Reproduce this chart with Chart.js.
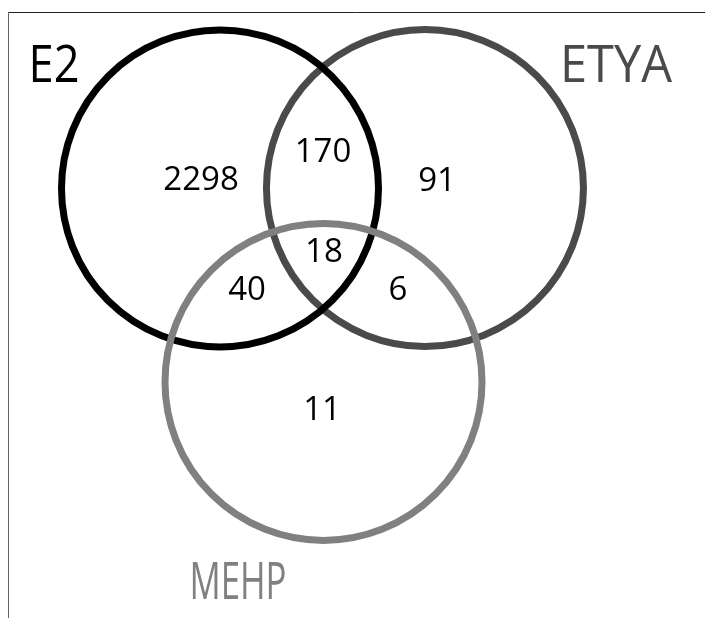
<!DOCTYPE html>
<html>
<head>
<meta charset="utf-8">
<script src="https://cdn.jsdelivr.net/npm/chart.js@4.4.1/dist/chart.umd.min.js"></script>
<style>
  html, body { margin: 0; padding: 0; background: #fff; }
  #wrap { width: 705px; height: 618px; }
</style>
</head>
<body>
<div id="wrap"><canvas id="venn" width="705" height="618"></canvas></div>
<script>
// Данные диаграммы (единица = радиус круга)
const setNames = ['E2', 'ETYA', 'MEHP'];
const setCenterX = [0, 1.289, 0.651];
const setCenterY = [0, 0.003, -1.217];

const regionCounts = [2298, 170, 91, 18, 40, 6, 11];
const regionX = [-0.119, 0.648, 1.365, 0.654, 0.170, 1.119, 0.642];
const regionY = [0.047, 0.223, 0.041, -0.406, -0.645, -0.645, -1.399];

// Стили
const setColors = ['#000000', '#4a4a4a', '#808080'];
const setOrder = [1, 2, 0];
const labelPos = [[54, 82], [616, 82], [238, 599]];   // центр по x, базовая линия
const labelWidth = [51, 112, 97];

const datasets = setNames.map((name, i) => ({
    label: name,
    data: [{ x: setCenterX[i], y: setCenterY[i] }],
    order: setOrder[i],
    showLine: false,
    pointBackgroundColor: 'rgba(0,0,0,0)',
    pointBorderColor: setColors[i],
    pointBorderWidth: 7,
    pointHoverBorderWidth: 7,
    pointRadius: ctx => {
        const s = ctx.chart.scales.x;
        return s ? s.getPixelForValue(1) - s.getPixelForValue(0) - 0.5 : 0;
    }
}));

const textPlugin = {
    id: 'vennText',
    afterDatasetsDraw(chart) {
        const c = chart.ctx;
        const xs = chart.scales.x, ys = chart.scales.y;
        c.save();
        // рамка
        c.lineWidth = 1;
        c.strokeStyle = '#222';
        c.beginPath(); c.moveTo(8, 12.5); c.lineTo(705, 12.5); c.stroke();
        c.strokeStyle = '#666';
        c.beginPath(); c.moveTo(8.5, 12); c.lineTo(8.5, 618); c.stroke();

        // числа в областях
        c.fillStyle = '#000';
        c.font = '33px "Open Sans"';
        c.textAlign = 'center';
        c.textBaseline = 'middle';
        regionCounts.forEach((v, i) => {
            c.fillText(String(v), xs.getPixelForValue(regionX[i]), ys.getPixelForValue(regionY[i]));
        });

        // названия множеств
        c.font = '52px "Open Sans"';
        c.textBaseline = 'alphabetic';
        setNames.forEach((name, i) => {
            const w = c.measureText(name).width;
            const k = labelWidth[i] / w;
            c.save();
            c.translate(labelPos[i][0], labelPos[i][1]);
            c.scale(k, 1);
            c.fillStyle = setColors[i];
            c.fillText(name, 0, 0);
            c.restore();
        });
        c.restore();
    }
};

new Chart(document.getElementById('venn'), {
    type: 'scatter',
    data: { datasets },
    options: {
        responsive: false,
        animation: false,
        events: [],
        layout: { padding: 0 },
        plugins: { legend: { display: false }, tooltip: { enabled: false } },
        scales: {
            x: { type: 'linear', display: false, min: -1.3836, max: 3.0503 },
            y: { type: 'linear', display: false, min: -2.7013, max: 1.1855 }
        }
    },
    plugins: [textPlugin]
});
</script>
</body>
</html>
